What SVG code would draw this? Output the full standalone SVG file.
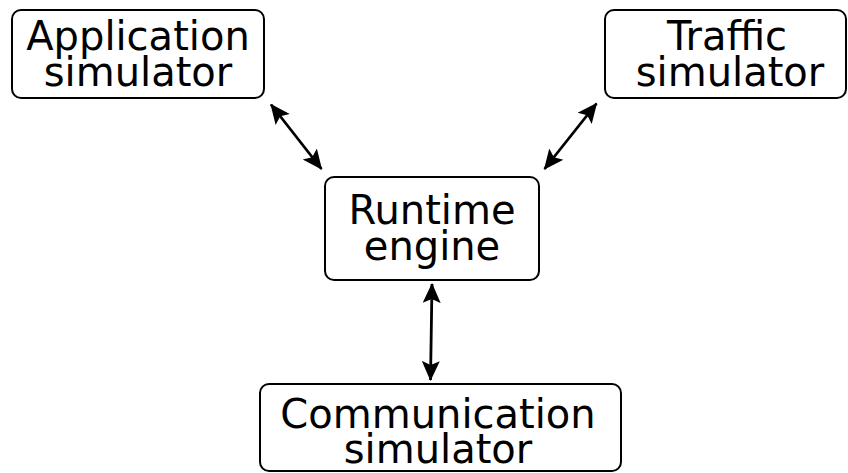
<svg xmlns="http://www.w3.org/2000/svg" width="848" height="473" viewBox="0 0 848 473">
  <defs>
    <style>
      .box { fill: #ffffff; stroke: #000000; stroke-width: 2; }
      .lbl { font-family: "DejaVu Sans", sans-serif; font-size: 40px; fill: #000000; text-anchor: middle; }
      .conn { stroke: #000000; stroke-width: 2.8; fill: none; }
    </style>
    <marker id="arrow" markerUnits="userSpaceOnUse" markerWidth="24" markerHeight="20" refX="19" refY="10" orient="auto-start-reverse" viewBox="0 0 24 20">
      <path d="M0,1 L20,10 L0,19 L4,10 z" fill="#000000"/>
    </marker>
  </defs>
  <rect width="848" height="473" fill="#ffffff"/>
  <g id="application-simulator">
    <rect class="box" x="12" y="10" width="252" height="88" rx="9"/>
    <text class="lbl" x="138" y="50">Application<tspan x="138" dy="36">simulator</tspan></text>
  </g>
  <g id="traffic-simulator">
    <rect class="box" x="605" y="10" width="241" height="88" rx="9"/>
    <text class="lbl" x="727" y="50">Traffic<tspan x="730" dy="36">simulator</tspan></text>
  </g>
  <g id="runtime-engine">
    <rect class="box" x="325" y="177" width="214" height="103" rx="9"/>
    <text class="lbl" x="432" y="224">Runtime<tspan x="432" dy="36">engine</tspan></text>
  </g>
  <g id="communication-simulator">
    <rect class="box" x="260" y="384" width="361" height="87" rx="9"/>
    <text class="lbl" x="438" y="428">Communication<tspan x="438" dy="35">simulator</tspan></text>
  </g>
  <g id="connectors">
    <line class="conn" x1="271" y1="104.5" x2="321.5" y2="169" marker-start="url(#arrow)" marker-end="url(#arrow)"/>
    <line class="conn" x1="596.5" y1="103.5" x2="544.5" y2="169" marker-start="url(#arrow)" marker-end="url(#arrow)"/>
    <line class="conn" x1="432" y1="284" x2="430.5" y2="380" marker-start="url(#arrow)" marker-end="url(#arrow)"/>
  </g>
</svg>
